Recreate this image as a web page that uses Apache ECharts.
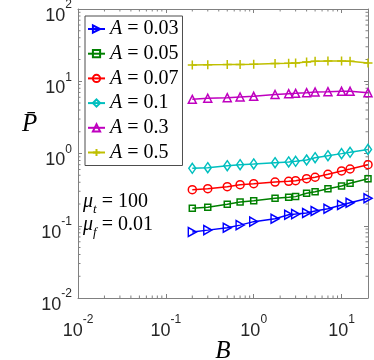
<!DOCTYPE html>
<html>
<head>
<meta charset="utf-8">
<script src="https://cdn.jsdelivr.net/npm/echarts@6/dist/echarts.min.js"></script>
<style>
  html, body { margin: 0; padding: 0; background: #fff; }
  #chart { width: 374px; height: 360px; }
</style>
</head>
<body>
<div id="chart"></div>
<script>
// B values (x) and mean power for each amplitude A
var B = [0.2, 0.3, 0.5, 0.7, 1, 1.75, 2.5, 3, 4, 5, 7, 10, 12.5, 20];
var P_A003 = [0.082, 0.087, 0.094, 0.102, 0.114, 0.125, 0.142, 0.145, 0.150, 0.160, 0.172, 0.194, 0.208, 0.240];
var P_A005 = [0.175, 0.180, 0.198, 0.213, 0.222, 0.240, 0.248, 0.253, 0.281, 0.296, 0.326, 0.355, 0.387, 0.448];
var P_A007 = [0.316, 0.326, 0.347, 0.370, 0.382, 0.403, 0.412, 0.420, 0.448, 0.469, 0.515, 0.573, 0.610, 0.700];
var P_A01 = [0.623, 0.636, 0.677, 0.700, 0.716, 0.746, 0.763, 0.779, 0.813, 0.875, 0.933, 0.996, 1.04, 1.14];
var P_A03 = [5.62, 5.81, 5.92, 6.05, 6.19, 6.55, 6.73, 6.81, 6.95, 7.10, 7.17, 7.26, 7.26, 6.95];
var P_A05 = [16.8, 16.9, 17.0, 17.1, 17.2, 17.6, 17.7, 17.9, 18.5, 18.9, 19.1, 19.1, 18.9, 17.9];

var xMin = 0.01, xMax = 20;
var yMin = 0.01, yMax = 100;
var minorX = [];
var minorY = [];
for (var k = -2; k <= 1; k++) {
  for (var m = 2; m <= 9; m++) {
    var v = m * Math.pow(10, k);
    if (v < xMax) minorX.push(v);
    minorY.push(v);
  }
}

var axisGray = "#808080";
var serif = "Liberation Serif";
var sans = "Liberation Sans";

function powLabel(value) {
  var e = Math.round(Math.log10(value));
  if (Math.abs(Math.pow(10, e) - value) > 1e-9 * value) return "";
  return "{b|10}{s|" + e + "}";
}
var powRich = {
  b: { fontFamily: sans, fontSize: 18, color: "#262626", lineHeight: 26, verticalAlign: "bottom" },
  s: { fontFamily: sans, fontSize: 12, color: "#262626", lineHeight: 12, verticalAlign: "top" }
};

function makeSeries(name, data, color, symbol, size, rotate) {
  return {
    name: name,
    type: "line",
    data: B.map(function (b, i) { return [b, data[i]]; }),
    symbol: symbol,
    symbolSize: size,
    symbolRotate: rotate || 0,
    showAllSymbol: true,
    lineStyle: { color: color, width: 1.5 },
    itemStyle: { color: "transparent", borderColor: color, borderWidth: 1.5 },
    emphasis: { disabled: true },
    z: 3
  };
}

var noteRich = {
  m: { fontFamily: serif, fontStyle: "italic", fontSize: 20, lineHeight: 24, verticalAlign: "top", fill: "#000" },
  t: { fontFamily: serif, fontStyle: "italic", fontSize: 13, lineHeight: 22, verticalAlign: "bottom", fill: "#000" },
  n: { fontFamily: serif, fontSize: 20, lineHeight: 24, verticalAlign: "top", fill: "#000" }
};

var chartDom = document.getElementById("chart");
var myChart = echarts.init(chartDom, null, { renderer: "canvas" });
var option;

option = {
  backgroundColor: "#fff",
  animation: false,
  grid: { left: 78, right: 6, top: 9, bottom: 62, show: false, containLabel: false, outerBoundsMode: "none" },
  legend: {
    orient: "vertical",
    left: 85,
    top: 16,
    data: ["A = 0.03", "A = 0.05", "A = 0.07", "A = 0.1", "A = 0.3", "A = 0.5"],
    itemWidth: 17,
    itemHeight: 9,
    itemGap: 4.7,
    padding: [3, 4, 3, 2],
    backgroundColor: "#fff",
    borderColor: "#4d4d4d",
    borderWidth: 1,
    borderRadius: 0,
    selectedMode: false,
    formatter: function (name) {
      return "{i|A}{n| = " + name.split("= ")[1] + "}";
    },
    textStyle: {
      lineHeight: 20,
      rich: {
        i: { fontFamily: serif, fontStyle: "italic", fontSize: 20, color: "#000", lineHeight: 20 },
        n: { fontFamily: serif, fontSize: 20, color: "#000", lineHeight: 20 }
      }
    }
  },
  xAxis: [
    {
      type: "log",
      logBase: 10,
      min: xMin,
      max: xMax,
      position: "bottom",
      axisLine: { lineStyle: { color: axisGray, width: 1 } },
      axisTick: { inside: true, length: 4, lineStyle: { color: axisGray } },
      axisLabel: { formatter: powLabel, rich: powRich, margin: 16, showMaxLabel: false },
      splitLine: { show: false }
    },
    {
      type: "log",
      logBase: 10,
      min: xMin,
      max: xMax,
      position: "top",
      axisLine: { lineStyle: { color: axisGray, width: 1 } },
      axisTick: { inside: true, length: 4, lineStyle: { color: axisGray } },
      axisLabel: { show: false },
      splitLine: { show: false }
    }
  ],
  yAxis: [
    {
      type: "log",
      logBase: 10,
      min: yMin,
      max: yMax,
      position: "left",
      axisLine: { lineStyle: { color: axisGray, width: 1 } },
      axisTick: { inside: true, length: 4, lineStyle: { color: axisGray } },
      axisLabel: { formatter: powLabel, rich: powRich, margin: 6, padding: [6, 0, 0, 0] },
      splitLine: { show: false }
    },
    {
      type: "log",
      logBase: 10,
      min: yMin,
      max: yMax,
      position: "right",
      axisLine: { lineStyle: { color: axisGray, width: 1 } },
      axisTick: { inside: true, length: 4, lineStyle: { color: axisGray } },
      axisLabel: { show: false },
      splitLine: { show: false }
    }
  ],
  graphic: [
    {
      type: "text",
      left: 22,
      top: 112,
      style: {
        text: "P\u0304",
        font: "italic 25px " + serif,
        fill: "#000"
      }
    },
    {
      // x axis title
      type: "text",
      x: 223,
      y: 351,
      style: {
        text: "B",
        font: "italic 25px " + serif,
        fill: "#000",
        align: "center",
        verticalAlign: "middle"
      }
    },
    {
      type: "text",
      left: 83,
      top: 192,
      style: { text: "{m|\u03bc}{t|t}{n| = 100}", rich: noteRich }
    },
    {
      type: "text",
      left: 83,
      top: 215,
      style: { text: "{m|\u03bc}{t|f}{n| = 0.01}", rich: noteRich }
    }
  ],
  series: [
    makeSeries("A = 0.03", P_A003, "#0000ff", "triangle", [9, 8], -90),
    makeSeries("A = 0.05", P_A005, "#008000", "rect", 6),
    makeSeries("A = 0.07", P_A007, "#ff0000", "circle", 8),
    makeSeries("A = 0.1", P_A01, "#00bfbf", "diamond", [7, 10]),
    makeSeries("A = 0.3", P_A03, "#bf00bf", "triangle", [8, 8]),
    makeSeries("A = 0.5", P_A05, "#bfbf00", "path://M0,5H10M5,0V10", 9),
    {
      // minor ticks on all four sides of the box
      type: "custom",
      silent: true,
      clip: false,
      z: 1,
      data: minorX.map(function (v) { return [v, 1, 0]; })
        .concat(minorY.map(function (v) { return [1, v, 1]; })),
      encode: { x: 0, y: 1 },
      renderItem: function (params, api) {
        var kind = api.value(2);
        var len = 2.5;
        var style = { stroke: axisGray, lineWidth: 1 };
        if (kind === 0) {
          var b = api.coord([api.value(0), yMin]);
          var t = api.coord([api.value(0), yMax]);
          return {
            type: "group",
            children: [
              { type: "line", shape: { x1: b[0], y1: b[1], x2: b[0], y2: b[1] - len }, style: style },
              { type: "line", shape: { x1: t[0], y1: t[1], x2: t[0], y2: t[1] + len }, style: style }
            ]
          };
        }
        var l = api.coord([xMin, api.value(1)]);
        var r = api.coord([xMax, api.value(1)]);
        return {
          type: "group",
          children: [
            { type: "line", shape: { x1: l[0], y1: l[1], x2: l[0] + len, y2: l[1] }, style: style },
            { type: "line", shape: { x1: r[0], y1: r[1], x2: r[0] - len, y2: r[1] }, style: style }
          ]
        };
      }
    }
  ]
};

option && myChart.setOption(option);
</script>
</body>
</html>
